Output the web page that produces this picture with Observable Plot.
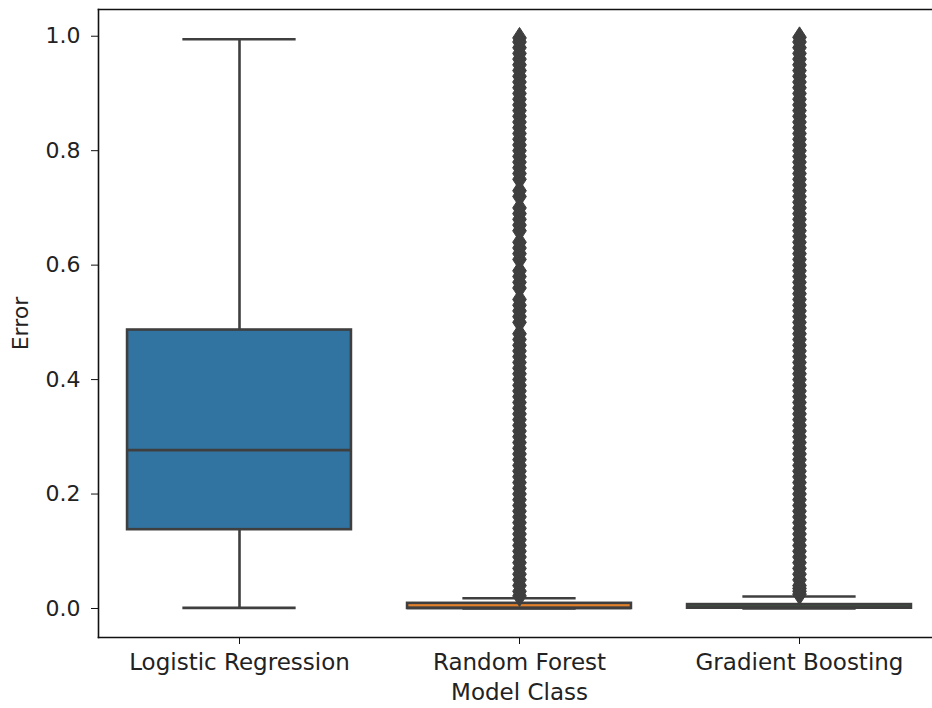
<!DOCTYPE html>
<html><head><meta charset="utf-8">
<script src="https://cdn.jsdelivr.net/npm/d3@7"></script>
<script src="https://cdn.jsdelivr.net/npm/@observablehq/plot@0.6"></script>
<style>body{margin:0;background:#fff;overflow:hidden} svg{display:block}</style>
</head><body><div id="chart"></div>
<script>
const models = ["Logistic Regression", "Random Forest", "Gradient Boosting"];
const boxColors = ["#3274a1", "#e1812c", "#3a923a"];
const whiskerLow = [0.001, 0.0, 0.0];
const q1 = [0.1377, 0.0, 0.0005];
const median = [0.2767, 0.001, 0.0036];
const q3 = [0.4866, 0.009, 0.0068];
const whiskerHigh = [0.9947, 0.018, 0.021];
const rfOutliers = [0.022,0.03,0.04,0.05,0.06,0.07,0.08,0.09,0.10,0.11,0.12,0.13,0.14,0.15,0.16,0.17,0.18,0.19,0.20,0.21,0.22,0.23,0.24,0.25,0.26,0.27,0.28,0.29,0.30,0.31,0.32,0.33,0.34,0.35,0.36,0.37,0.38,0.39,0.40,0.41,0.42,0.43,0.44,0.45,0.46,0.47,0.48,0.50,0.51,0.52,0.53,0.54,0.56,0.57,0.58,0.59,0.61,0.62,0.63,0.64,0.66,0.67,0.68,0.69,0.70,0.72,0.73,0.75,0.76,0.77,0.78,0.79,0.80,0.81,0.82,0.83,0.84,0.85,0.86,0.87,0.88,0.89,0.90,0.91,0.92,0.93,0.94,0.95,0.96,0.97,0.98,0.99,0.997];
const gbOutliers = [0.025,0.03,0.035,0.04,0.05,0.06,0.07,0.08,0.09,0.10,0.11,0.12,0.13,0.14,0.15,0.16,0.17,0.18,0.19,0.20,0.21,0.22,0.23,0.24,0.25,0.26,0.27,0.28,0.29,0.30,0.31,0.32,0.33,0.34,0.35,0.36,0.37,0.38,0.39,0.40,0.41,0.42,0.43,0.44,0.45,0.46,0.47,0.48,0.49,0.50,0.51,0.52,0.53,0.54,0.55,0.56,0.57,0.58,0.59,0.60,0.61,0.62,0.63,0.64,0.65,0.66,0.67,0.68,0.69,0.70,0.71,0.72,0.73,0.74,0.75,0.76,0.77,0.78,0.79,0.80,0.81,0.82,0.83,0.84,0.85,0.86,0.87,0.88,0.89,0.90,0.91,0.92,0.93,0.94,0.95,0.96,0.97,0.98,0.99,0.998];
const yTicks = [0, 0.2, 0.4, 0.6, 0.8, 1.0];

const boxes = models.map((m, i) => ({
  model: m, color: boxColors[i], lo: whiskerLow[i], q1: q1[i], med: median[i], q3: q3[i], hi: whiskerHigh[i]
}));
const outliers = [
  ...rfOutliers.map(v => ({model: models[1], v})),
  ...gbOutliers.map(v => ({model: models[2], v}))
];

const thinDiamond = {
  draw(ctx, size) {
    const r = Math.sqrt(size / Math.PI);
    ctx.moveTo(0, -r); ctx.lineTo(r * 0.65, 0); ctx.lineTo(0, r); ctx.lineTo(-r * 0.65, 0); ctx.closePath();
  }
};

const line = "#3f3f3f";
const W = 932, H = 708;
const mL = 98, mR = -8;
const band = (W - mL - mR) / 3;
const boxInset = band * 0.1;
const capInset = band * 0.297;
const spine = {stroke: "#111", strokeWidth: 1.6};

const chart = Plot.plot({
  width: W, height: H,
  marginLeft: mL, marginRight: mR, marginTop: 9, marginBottom: 71,
  style: {fontFamily: "'DejaVu Sans', sans-serif", fontSize: "22px", color: "#222", background: "#fff", overflow: "hidden"},
  x: {type: "band", domain: models, padding: 0},
  y: {domain: [-0.0507, 1.0467]},
  marks: [
    Plot.ruleX(boxes, {x: "model", y1: "lo", y2: "q1", stroke: line, strokeWidth: 2.6}),
    Plot.ruleX(boxes, {x: "model", y1: "q3", y2: "hi", stroke: line, strokeWidth: 2.6}),
    Plot.barY(boxes, {x: "model", y1: "q1", y2: "q3", fill: "color", stroke: line, strokeWidth: 2.6, insetLeft: boxInset, insetRight: boxInset}),
    Plot.tickY(boxes, {x: "model", y: "med", stroke: line, strokeWidth: 2.6, insetLeft: boxInset, insetRight: boxInset}),
    Plot.tickY(boxes, {x: "model", y: "lo", stroke: line, strokeWidth: 2.6, insetLeft: capInset, insetRight: capInset}),
    Plot.tickY(boxes, {x: "model", y: "hi", stroke: line, strokeWidth: 2.6, insetLeft: capInset, insetRight: capInset}),
    Plot.dot(outliers, {x: "model", y: "v", symbol: thinDiamond, r: 10.5, fill: line, stroke: line, strokeWidth: 1}),
    Plot.frame({anchor: "left", ...spine}),
    Plot.frame({anchor: "top", ...spine}),
    Plot.frame({anchor: "bottom", ...spine}),
    Plot.axisY({ticks: yTicks, tickFormat: d3.format(".1f"), tickSize: 7, tickPadding: 11, stroke: "#111",
      label: "Error", labelAnchor: "center", labelArrow: "none", labelOffset: 86}),
    Plot.axisX({tickSize: 7, tickPadding: 9, stroke: "#111", fontSize: 23,
      label: "Model Class", labelAnchor: "center", labelArrow: "none", labelOffset: 62})
  ]
});
document.getElementById("chart").appendChild(chart);
</script>
</body></html>
